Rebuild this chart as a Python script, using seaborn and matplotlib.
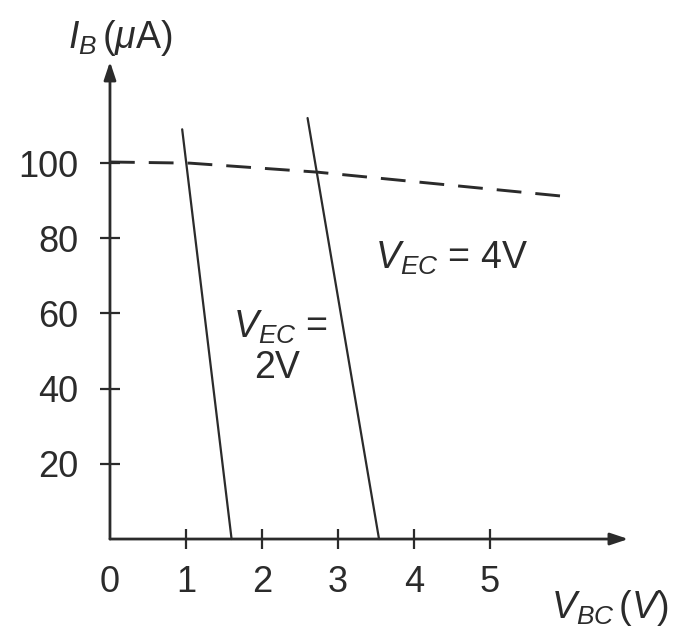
import matplotlib
matplotlib.use("Agg")
import matplotlib.pyplot as plt
import pandas as pd
import seaborn as sns

# Input characteristics: base current vs. base-collector voltage
vbc_2v = [0.95, 1.60]
ib_2v = [109, 0]
vbc_4v = [2.60, 3.54]
ib_4v = [112, 0]
vbc_dash = [0.0, 1.05, 2.73, 5.96]
ib_dash = [100.3, 100.0, 97.6, 91.2]

x_ticks = [0, 1, 2, 3, 4, 5]
x_tick_labels = ["0", "1", "2", "3", "4", "5"]
y_ticks = [20, 40, 60, 80, 100]
y_tick_labels = ["20", "40", "60", "80", "100"]

sns.set_theme(style="white")
plt.rcParams["font.family"] = ["Liberation Sans", "DejaVu Sans"]
plt.rcParams["mathtext.fontset"] = "custom"
plt.rcParams["mathtext.rm"] = "Liberation Sans"
plt.rcParams["mathtext.it"] = "Liberation Sans:italic"
plt.rcParams["mathtext.bf"] = "Liberation Sans:bold"

ink = "#2b2b2b"
fs_tick = 26
fs = 27

fig = plt.figure(figsize=(6.79, 6.33), dpi=100)
fig.patch.set_facecolor("white")
ax = fig.add_axes([0, 0, 1, 1])
ax.set_facecolor("white")

df2 = pd.DataFrame({"vbc": vbc_2v, "ib": ib_2v})
df4 = pd.DataFrame({"vbc": vbc_4v, "ib": ib_4v})
dfd = pd.DataFrame({"vbc": vbc_dash, "ib": ib_dash})

sns.lineplot(data=df2, x="vbc", y="ib", ax=ax, color=ink, lw=1.6,
             sort=False, estimator=None)
sns.lineplot(data=df4, x="vbc", y="ib", ax=ax, color=ink, lw=1.6,
             sort=False, estimator=None)
sns.lineplot(data=dfd, x="vbc", y="ib", ax=ax, color=ink, lw=2.1,
             sort=False, estimator=None, dashes=False)
ax.lines[-1].set_dashes((8.5, 4.8))

ax.set_xlim(-1.447, 7.487)
ax.set_ylim(-25.0, 143.4)

# axes drawn through the origin, with arrowheads
for s in ["top", "right", "left", "bottom"]:
    ax.spines[s].set_visible(False)
ax.spines["left"].set_position(("data", 0))
ax.spines["bottom"].set_position(("data", 0))
arrow = dict(arrowstyle="-|>,head_length=0.9,head_width=0.3", color=ink,
             lw=2.0, shrinkA=0, shrinkB=0)
ax.annotate("", xy=(0, 127), xytext=(0, 0), arrowprops=arrow)
ax.annotate("", xy=(6.82, 0), xytext=(0, 0), arrowprops=arrow)

ax.set_xticks(x_ticks)
ax.set_xticklabels(x_tick_labels)
ax.set_yticks(y_ticks)
ax.set_yticklabels(y_tick_labels)
ax.tick_params(axis="both", direction="inout", length=14, width=1.6,
               colors=ink, labelsize=fs_tick, labelcolor=ink,
               bottom=True, left=True, top=False, right=False)
ax.tick_params(axis="x", pad=12)
ax.tick_params(axis="y", pad=16)
ax.xaxis.get_major_ticks()[0].tick1line.set_visible(False)
ax.set_xlabel("")
ax.set_ylabel("")

ax.text(0.14, 133.2, r"$I_B\,(\mu\mathrm{A})$", fontsize=fs, color=ink,
        ha="center", va="center")
ax.text(6.57, -18.4, r"$V_{BC}\,(V)$", fontsize=fs, color=ink,
        ha="center", va="center")
ax.text(4.49, 74.7, r"$V_{EC}$ = 4V", fontsize=fs, color=ink,
        ha="center", va="center")
ax.text(2.25, 56.4, r"$V_{EC}$ =", fontsize=fs, color=ink,
        ha="center", va="center")
ax.text(2.20, 45.5, "2V", fontsize=fs, color=ink,
        ha="center", va="center")

fig.savefig("out.png", dpi=100, facecolor="white")
